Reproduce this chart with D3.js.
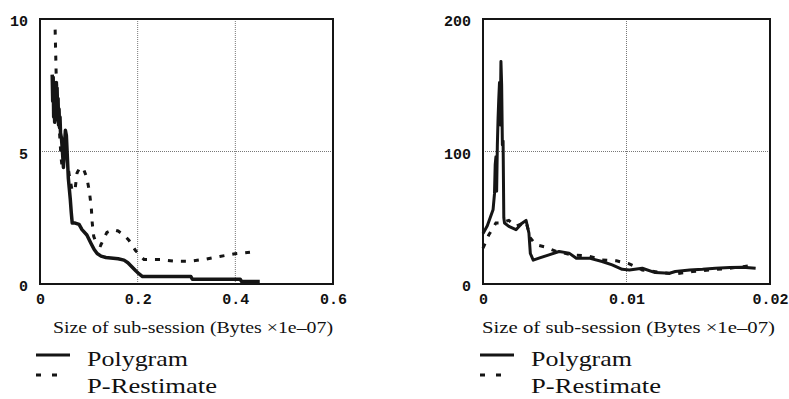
<!DOCTYPE html>
<html lang="en">
  <head>
    <meta charset="UTF-8" />
    <title>Polygram vs P-Restimate</title>
    <style>
      body { margin: 0; background: #fff; }
      .tick text { font-family: "Liberation Mono", monospace; font-weight: bold; font-size: 15px; fill: #111; }
      .title { font-family: "Liberation Serif", serif; font-size: 17px; fill: #111; }
      .legend { font-family: "Liberation Serif", serif; font-size: 22px; fill: #111; }
    </style>
  </head>
  <body>
    <svg width="789" height="399"></svg>
    <script src="https://d3js.org/d3.v7.min.js"></script>
    <script>
      // left panel data
      var leftPolyX = [0.025, 0.026, 0.027, 0.028, 0.029, 0.030, 0.031, 0.032, 0.033, 0.034, 0.035, 0.036, 0.037, 0.038,
        0.039, 0.040, 0.041, 0.042, 0.044, 0.046, 0.048, 0.050, 0.052, 0.054, 0.056, 0.058, 0.060, 0.062, 0.064, 0.066,
        0.072, 0.080, 0.086, 0.096, 0.104, 0.111, 0.117, 0.125, 0.135, 0.150, 0.160, 0.172, 0.180, 0.188, 0.196, 0.203,
        0.210, 0.250, 0.309, 0.312, 0.360, 0.410, 0.413, 0.450];
      var leftPolyY = [7.9, 6.9, 7.8, 6.3, 7.5, 6.1, 7.3, 6.6, 7.6, 6.2, 7.4, 6.4, 7.0, 6.0,
        6.6, 5.9, 6.3, 5.7, 5.5, 5.0, 4.4, 5.2, 5.8, 5.6, 4.8, 4.0, 3.6, 3.2, 2.7, 2.3,
        2.3, 2.25, 2.05, 1.85, 1.55, 1.3, 1.15, 1.05, 1.0, 0.97, 0.95, 0.9, 0.8, 0.65, 0.5, 0.38,
        0.28, 0.28, 0.28, 0.18, 0.18, 0.18, 0.09, 0.09];
      var leftEstX = [0.031, 0.032, 0.033, 0.035, 0.037, 0.039, 0.041, 0.043, 0.045, 0.048, 0.052, 0.056, 0.060, 0.066,
        0.072, 0.076, 0.082, 0.089, 0.096, 0.101, 0.105, 0.107, 0.110, 0.116, 0.124, 0.137, 0.150, 0.160, 0.172, 0.182,
        0.196, 0.213, 0.247, 0.278, 0.309, 0.340, 0.368, 0.399, 0.430];
      var leftEstY = [9.6, 8.8, 8.0, 7.2, 6.8, 6.0, 5.4, 4.8, 4.45, 4.6, 5.2, 4.6, 4.1, 3.5,
        3.6, 4.2, 4.4, 4.35, 4.0, 3.5, 2.9, 2.3, 1.8, 1.5, 1.45, 1.95, 2.05, 2.0, 1.85, 1.65,
        1.25, 0.92, 0.92, 0.86, 0.86, 0.94, 1.04, 1.14, 1.2];

      // right panel data
      var rightPolyX = [0.0000, 0.0003, 0.0005, 0.0007, 0.0008, 0.00085, 0.0009, 0.00095, 0.0010, 0.00105, 0.0011,
        0.00115, 0.0012, 0.00125, 0.0013, 0.00135, 0.0014, 0.00145, 0.0015, 0.0018, 0.0023, 0.0027, 0.0030, 0.0032,
        0.0033, 0.0035, 0.0039, 0.0046, 0.0053, 0.0060, 0.0065, 0.0074, 0.0083, 0.0090, 0.0097, 0.0102, 0.0111,
        0.0120, 0.0130, 0.0134, 0.0144, 0.0153, 0.0162, 0.0172, 0.0181, 0.0190];
      var rightPolyY = [38, 44, 50, 56, 68, 90, 96, 70, 105, 125, 140,
        152, 120, 168, 150, 105, 108, 50, 46, 43.5, 41, 45.6, 48, 38.5,
        23, 18, 19.5, 22, 24.5, 23.3, 19.5, 19.5, 17, 14.4, 11.1, 10.6, 11.9,
        8.6, 8.1, 9.4, 10.6, 11.1, 11.9, 12.4, 12.7, 11.9];
      var rightEstX = [0.0000, 0.0004, 0.0009, 0.0012, 0.0018, 0.0023, 0.0030, 0.0033, 0.0037, 0.0043, 0.0051,
        0.0062, 0.0073, 0.0083, 0.0093, 0.0102, 0.0111, 0.0125, 0.0134, 0.0146, 0.0158, 0.0172, 0.0186];
      var rightEstY = [27, 37, 46, 46, 48, 43.5, 47, 34.7, 29.6, 28, 24.6,
        22, 21.3, 18.2, 17.5, 15.2, 10.6, 8.6, 7.6, 9.4, 10.6, 11.9, 13.7];

      var leftXTicks = [0, 0.2, 0.4, 0.6], leftYTicks = [0, 5, 10];
      var rightXTicks = [0, 0.01, 0.02], rightYTicks = [0, 100, 200];
      var xTitle = "Size of sub-session (Bytes \u00d71e\u201307)";
      var seriesNames = ["Polygram", "P-Restimate"];

      var svg = d3.select("svg");
      var ink = "#151515";

      function drawPanel(opt) {
        var x = d3.scaleLinear().domain(opt.xDomain).range([opt.left, opt.right]);
        var y = d3.scaleLinear().domain(opt.yDomain).range([opt.bottom, opt.top]);
        var g = svg.append("g");

        // dotted gridlines at inner ticks
        g.selectAll(".gx").data(opt.xTicks.slice(1, -1)).enter().append("line")
          .attr("x1", d => x(d)).attr("x2", d => x(d))
          .attr("y1", opt.top).attr("y2", opt.bottom)
          .attr("stroke", "#777").attr("stroke-width", 1).attr("stroke-dasharray", "1,1");
        g.selectAll(".gy").data(opt.yTicks.slice(1, -1)).enter().append("line")
          .attr("y1", d => y(d)).attr("y2", d => y(d))
          .attr("x1", opt.left).attr("x2", opt.right)
          .attr("stroke", "#777").attr("stroke-width", 1).attr("stroke-dasharray", "1,1");

        var line = d3.line().x(d => x(d[0])).y(d => y(d[1]));
        var poly = d3.zip(opt.polyX, opt.polyY);
        var est = d3.zip(opt.estX, opt.estY);

        g.append("path").datum(est).attr("d", line)
          .attr("fill", "none").attr("stroke", ink).attr("stroke-width", 3)
          .attr("stroke-dasharray", "5,8");
        g.append("path").datum(poly).attr("d", line)
          .attr("fill", "none").attr("stroke", ink).attr("stroke-width", opt.polyW)
          .attr("stroke-linejoin", "round");

        // frame
        g.append("rect")
          .attr("x", opt.left).attr("y", opt.top)
          .attr("width", opt.right - opt.left).attr("height", opt.bottom - opt.top)
          .attr("fill", "none").attr("stroke", ink).attr("stroke-width", 2);

        var fmt = d => d === 0 ? "0" : String(d);
        var ax = g.append("g").attr("transform", "translate(0," + (opt.bottom + 6) + ")")
          .call(d3.axisBottom(x).tickValues(opt.xTicks).tickSize(0).tickFormat(fmt));
        ax.select(".domain").remove();
        var ay = g.append("g").attr("transform", "translate(" + (opt.left - 9) + ",2)")
          .call(d3.axisLeft(y).tickValues(opt.yTicks).tickSize(0).tickFormat(fmt));
        ay.select(".domain").remove();

        g.append("text").attr("class", "title")
          .attr("x", opt.titleX).attr("y", 333)
          .attr("textLength", opt.titleW).attr("lengthAdjust", "spacingAndGlyphs")
          .text(xTitle);

        // legend
        var lx = opt.legendX;
        g.append("line").attr("x1", lx).attr("x2", lx + 34).attr("y1", 355).attr("y2", 355)
          .attr("stroke", ink).attr("stroke-width", 3);
        g.append("line").attr("x1", lx).attr("x2", lx + 22).attr("y1", 375).attr("y2", 375)
          .attr("stroke", ink).attr("stroke-width", 3).attr("stroke-dasharray", "5,11");
        g.append("text").attr("class", "legend").attr("x", lx + 51).attr("y", 366)
          .attr("textLength", 101).attr("lengthAdjust", "spacingAndGlyphs").text(seriesNames[0]);
        g.append("text").attr("class", "legend").attr("x", lx + 51).attr("y", 393)
          .attr("textLength", 130).attr("lengthAdjust", "spacingAndGlyphs").text(seriesNames[1]);
      }

      drawPanel({
        left: 40, right: 333, top: 19, bottom: 284,
        xDomain: [0, 0.6], yDomain: [0, 10],
        xTicks: leftXTicks, yTicks: leftYTicks,
        polyX: leftPolyX, polyY: leftPolyY, estX: leftEstX, estY: leftEstY,
        polyW: 3.5, titleX: 53, titleW: 280, legendX: 36
      });
      drawPanel({
        left: 483, right: 770, top: 19, bottom: 284,
        xDomain: [0, 0.02], yDomain: [0, 200],
        xTicks: rightXTicks, yTicks: rightYTicks,
        polyX: rightPolyX, polyY: rightPolyY, estX: rightEstX, estY: rightEstY,
        polyW: 3, titleX: 482, titleW: 293, legendX: 480
      });
    </script>
  </body>
</html>
